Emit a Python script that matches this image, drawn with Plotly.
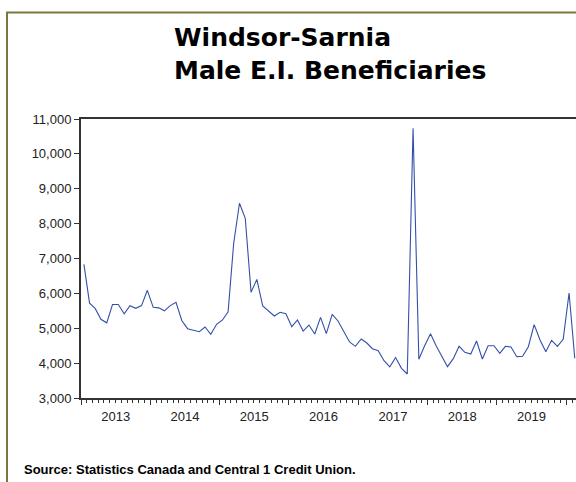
import pandas as pd
import plotly.graph_objects as go

# Monthly male E.I. beneficiaries, Windsor-Sarnia, Jan 2013 - Feb 2020
start_month = "2013-01-01"
beneficiaries = [
    6830, 5720, 5570, 5257, 5155, 5680, 5680, 5415, 5648, 5570, 5650, 6088,
    5600, 5585, 5500, 5648, 5745, 5222, 4988, 4936, 4902, 5036, 4826, 5113,
    5237, 5470, 7436, 8583, 8153, 6029, 6402, 5638, 5495, 5351, 5457, 5418,
    5046, 5237, 4921, 5093, 4835, 5313, 4845, 5399, 5208, 4921, 4606, 4482,
    4692, 4577, 4415, 4357, 4070, 3893, 4160, 3851, 3688, 10733, 4109, 4500,
    4845, 4500, 4185, 3898, 4128, 4482, 4310, 4262, 4634, 4118, 4500, 4500,
    4281, 4482, 4462, 4185, 4195, 4472, 5103, 4663, 4329, 4654, 4482, 4683,
    6011, 4138,
]
title_lines = ["Windsor-Sarnia", "Male E.I. Beneficiaries"]
source_note = "Source: Statistics Canada and Central 1 Credit Union."

# plot each month at the middle of its period
month_starts = pd.date_range(start_month, periods=len(beneficiaries) + 1, freq="MS")
months = month_starts[:-1] + (month_starts[1:] - month_starts[:-1]) / 2

W, H = 576, 482
L, R, T, B = 81, 0, 119, 84
pw, ph = W - L - R, H - T - B


def px_x(x):
    return (x - L) / pw


def px_y(y):
    return (H - B - y) / ph


axis_col = "#333333"
fig = go.Figure()
fig.add_trace(go.Scatter(
    x=months, y=beneficiaries, mode="lines",
    line=dict(color="#3350a8", width=1.1),
    hoverinfo="x+y", showlegend=False,
))

fig.update_layout(
    width=W, height=H,
    margin=dict(l=L, r=R, t=T, b=B),
    paper_bgcolor="white", plot_bgcolor="white",
    font=dict(family="Liberation Sans, Arial, sans-serif", color="#222222"),
    xaxis=dict(
        type="date",
        range=["2013-01-01", "2020-02-22"],
        tick0="2013-01-01", dtick="M12",
        tickformat="%Y", ticklabelmode="period",
        ticks="outside", ticklen=5, tickwidth=1, tickcolor=axis_col,
        minor=dict(dtick="M1", ticks="outside", ticklen=3, tickwidth=1,
                   tickcolor=axis_col, showgrid=False),
        showline=True, linecolor=axis_col, linewidth=2, mirror=True,
        showgrid=False, zeroline=False,
        tickfont=dict(size=13, color="#222222"),
    ),
    yaxis=dict(
        range=[3000, 11000], tick0=3000, dtick=1000, tickformat=",",
        ticks="outside", ticklen=5, tickwidth=1, tickcolor=axis_col,
        showline=True, linecolor=axis_col, linewidth=2,
        showgrid=False, zeroline=False,
        tickfont=dict(size=13, color="#222222"),
    ),
    shapes=[dict(
        type="rect", xref="paper", yref="paper",
        x0=px_x(7), x1=2.0, y0=-2.0, y1=px_y(12.5),
        line=dict(color="#78783c", width=2), fillcolor="rgba(0,0,0,0)",
        layer="below",
    )],
    annotations=[
        dict(text="<b>%s</b>" % title_lines[0], xref="paper", yref="paper",
             x=px_x(172), y=px_y(37.5), xanchor="left", yanchor="middle",
             showarrow=False,
             font=dict(family="DejaVu Sans", size=25, color="black")),
        dict(text="<b>%s</b>" % title_lines[1], xref="paper", yref="paper",
             x=px_x(172), y=px_y(70.5), xanchor="left", yanchor="middle",
             showarrow=False,
             font=dict(family="DejaVu Sans", size=25, color="black")),
        dict(text="<b>%s</b>" % source_note, xref="paper", yref="paper",
             x=px_x(22), y=px_y(469), xanchor="left", yanchor="middle",
             showarrow=False,
             font=dict(family="Liberation Sans, Arial", size=13, color="black")),
    ],
)

fig.write_html("out.html", config=dict(displayModeBar=False))
